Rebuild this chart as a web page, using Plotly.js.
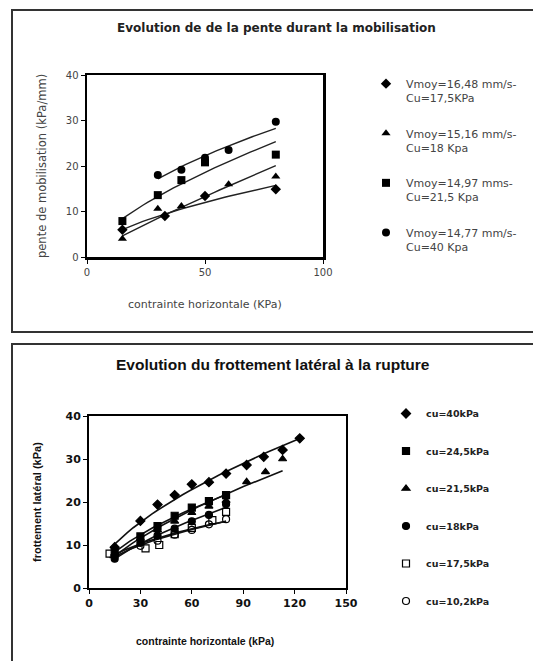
<!DOCTYPE html>
<html><head><meta charset="utf-8">
<script src="https://cdn.plot.ly/plotly-3.0.1.min.js"></script>
<style>html,body{margin:0;padding:0;background:#fff;}#c{width:533px;height:661px;}</style>
</head><body><div id="c"></div>
<script>
// ---- Top chart data: pente de mobilisation vs contrainte horizontale
const topNames = ["Vmoy=16,48 mm/s-<br>Cu=17,5KPa","Vmoy=15,16 mm/s-<br>Cu=18 Kpa","Vmoy=14,97 mms-<br>Cu=21,5 Kpa","Vmoy=14,77 mm/s-<br>Cu=40 Kpa"];
const topSymbols = ["diamond","triangle-up","square","circle"];
const topX1 = [15,33,50,80];          const topY1 = [6.0,9.0,13.4,14.9];
const topX2 = [15,30,40,60,80];       const topY2 = [4.0,10.6,11.2,16.0,17.7];
const topX3 = [15,30,40,50,80];       const topY3 = [7.9,13.6,16.9,20.8,22.5];
const topX4 = [30,40,50,60,80];       const topY4 = [18.0,19.2,21.8,23.5,29.7];
const topTicksX = [0,50,100];
const topTicksY = [0,10,20,30,40];

// ---- Bottom chart data: frottement latéral vs contrainte horizontale
const botNames = ["cu=40kPa","cu=24,5kPa","cu=21,5kPa","cu=18kPa","cu=17,5kPa","cu=10,2kPa"];
const botSymbols = ["diamond","square","triangle-up","circle","square-open","circle-open"];
const botX1 = [15,30,40,50,60,70,80,92,102,113,123];
const botY1 = [9.5,15.6,19.4,21.6,24.1,24.6,26.6,28.6,30.5,32.1,34.8];
const botX2 = [15,30,40,50,60,70,80];
const botY2 = [8.5,12.0,14.4,16.8,18.7,20.2,21.6];
const botX3 = [15,30,40,50,60,70,80,92,103,113];
const botY3 = [8.0,11.5,13.5,15.5,17.5,19.0,20.3,24.7,27.0,30.0];
const botX4 = [15,30,40,50,60,70,80];
const botY4 = [6.8,10.5,12.2,13.8,15.5,17.0,19.5];
const botX5 = [12,33,41,50,60,72,80];
const botY5 = [8.0,9.2,10.0,12.5,14.0,15.8,17.7];
const botX6 = [15,30,40,50,60,70,80];
const botY6 = [7.5,9.8,11.0,12.4,13.5,14.8,16.0];
const botTicksX = [0,30,60,90,120,150];
const botTicksY = [0,10,20,30,40];

// power-law trendline (least squares in log-log), like a spreadsheet trendline
function powerFit(xs, ys){
  const n=xs.length; let sx=0,sy=0,sxx=0,sxy=0;
  for(let i=0;i<n;i++){const lx=Math.log(xs[i]),ly=Math.log(ys[i]);sx+=lx;sy+=ly;sxx+=lx*lx;sxy+=lx*ly;}
  const b=(n*sxy-sx*sy)/(n*sxx-sx*sx); const a=Math.exp((sy-b*sx)/n);
  const x0=Math.min(...xs), x1=Math.max(...xs); const fx=[],fy=[];
  for(let i=0;i<=30;i++){const x=x0+(x1-x0)*i/30; fx.push(x); fy.push(a*Math.pow(x,b));}
  return {x:fx,y:fy};
}

const W=533,H=661;
const px=v=>v/W, py=v=>1-v/H;
const traces=[];
const topXs=[topX1,topX2,topX3,topX4], topYs=[topY1,topY2,topY3,topY4];
for(let i=0;i<4;i++){
  const f=powerFit(topXs[i],topYs[i]);
  traces.push({x:f.x,y:f.y,mode:'lines',line:{color:'#222',width:1.4},showlegend:false,hoverinfo:'skip',xaxis:'x',yaxis:'y'});
}
for(let i=0;i<4;i++){
  traces.push({x:topXs[i],y:topYs[i],mode:'markers',name:topNames[i],legendgroup:'t'+i,
    marker:{symbol:topSymbols[i],color:'#000',size:8},xaxis:'x',yaxis:'y',legend:'legend'});
}
const botXs=[botX1,botX2,botX3,botX4,botX5,botX6], botYs=[botY1,botY2,botY3,botY4,botY5,botY6];
for(let i=0;i<6;i++){
  const f=powerFit(botXs[i],botYs[i]);
  traces.push({x:f.x,y:f.y,mode:'lines',line:{color:'#111',width:1.6},showlegend:false,hoverinfo:'skip',xaxis:'x2',yaxis:'y2'});
}
for(let i=0;i<6;i++){
  traces.push({x:botXs[i],y:botYs[i],mode:'markers',name:botNames[i],legendgroup:'b'+i,
    marker:{symbol:botSymbols[i],color:'#000',size:7,line:{color:'#000',width:1.2}},xaxis:'x2',yaxis:'y2',legend:'legend2'});
}

const fTop={family:'DejaVu Sans, Arial, sans-serif',size:10,color:'#444'};
const fBot={family:'DejaVu Sans, Arial, sans-serif',size:11,color:'#111',weight:'bold'};
const axBase={showgrid:false,zeroline:false,showline:true,linecolor:'#000',mirror:true,ticks:'outside',ticklen:4,tickcolor:'#000',fixedrange:true};
const ann=(o)=>Object.assign({xref:'paper',yref:'paper',showarrow:false,xanchor:'center',yanchor:'middle'},o);

const layout={
  width:W,height:H,margin:{l:0,r:0,t:0,b:0},paper_bgcolor:'#fff',plot_bgcolor:'#fff',
  xaxis:Object.assign({},axBase,{domain:[px(87),px(323)],range:[0,100],tickvals:topTicksX,linewidth:2.5,tickfont:fTop,anchor:'y'}),
  yaxis:Object.assign({},axBase,{domain:[py(257),py(75)],range:[0,40],tickvals:topTicksY,linewidth:2.5,tickfont:fTop,anchor:'x'}),
  xaxis2:Object.assign({},axBase,{domain:[px(89),px(346)],range:[0,150],tickvals:botTicksX,linewidth:2,tickfont:fBot,anchor:'y2'}),
  yaxis2:Object.assign({},axBase,{domain:[py(588),py(416)],range:[0,40],tickvals:botTicksY,linewidth:2,tickfont:fBot,anchor:'x2'}),
  legend:{x:px(366),y:py(70),xanchor:'left',yanchor:'top',valign:'top',tracegroupgap:18,
    font:{family:'DejaVu Sans, Arial, sans-serif',size:11,color:'#444'},bgcolor:'rgba(0,0,0,0)'},
  legend2:{x:px(386),y:py(399),xanchor:'left',yanchor:'top',tracegroupgap:18.5,
    font:{family:'DejaVu Sans, Arial, sans-serif',size:9.5,color:'#222',weight:'bold'},bgcolor:'rgba(0,0,0,0)'},
  shapes:[
    {type:'rect',xref:'paper',yref:'paper',x0:px(12),x1:px(545),y0:py(332),y1:py(10),line:{color:'#333',width:2}},
    {type:'rect',xref:'paper',yref:'paper',x0:px(12),x1:px(545),y0:py(680),y1:py(344),line:{color:'#333',width:2}}
  ],
  annotations:[
    ann({text:'Evolution de de la pente durant la mobilisation',x:px(276),y:py(28),
      font:{family:'DejaVu Sans, Arial, sans-serif',size:12,color:'#222',weight:'bold'}}),
    ann({text:'contrainte horizontale (KPa)',x:px(205),y:py(304),font:{family:'DejaVu Sans, Arial, sans-serif',size:11,color:'#444'}}),
    ann({text:'pente de mobilisation (kPa/mm)',x:px(42),y:py(166),textangle:-90,font:{family:'DejaVu Sans, Arial, sans-serif',size:11.5,color:'#444'}}),
    ann({text:'Evolution du frottement latéral à la rupture',x:px(273),y:py(364),
      font:{family:'Liberation Sans, Arial, sans-serif',size:15.5,color:'#111',weight:'bold'}}),
    ann({text:'contrainte horizontale (kPa)',x:px(205),y:py(641),
      font:{family:'Liberation Sans, Arial, sans-serif',size:10.5,color:'#111',weight:'bold'}}),
    ann({text:'frottement latéral (kPa)',x:px(37),y:py(502),textangle:-90,
      font:{family:'Liberation Sans, Arial, sans-serif',size:11,color:'#111',weight:'bold'}})
  ]
};
Plotly.newPlot('c',traces,layout,{staticPlot:true,displayModeBar:false});
</script></body></html>
